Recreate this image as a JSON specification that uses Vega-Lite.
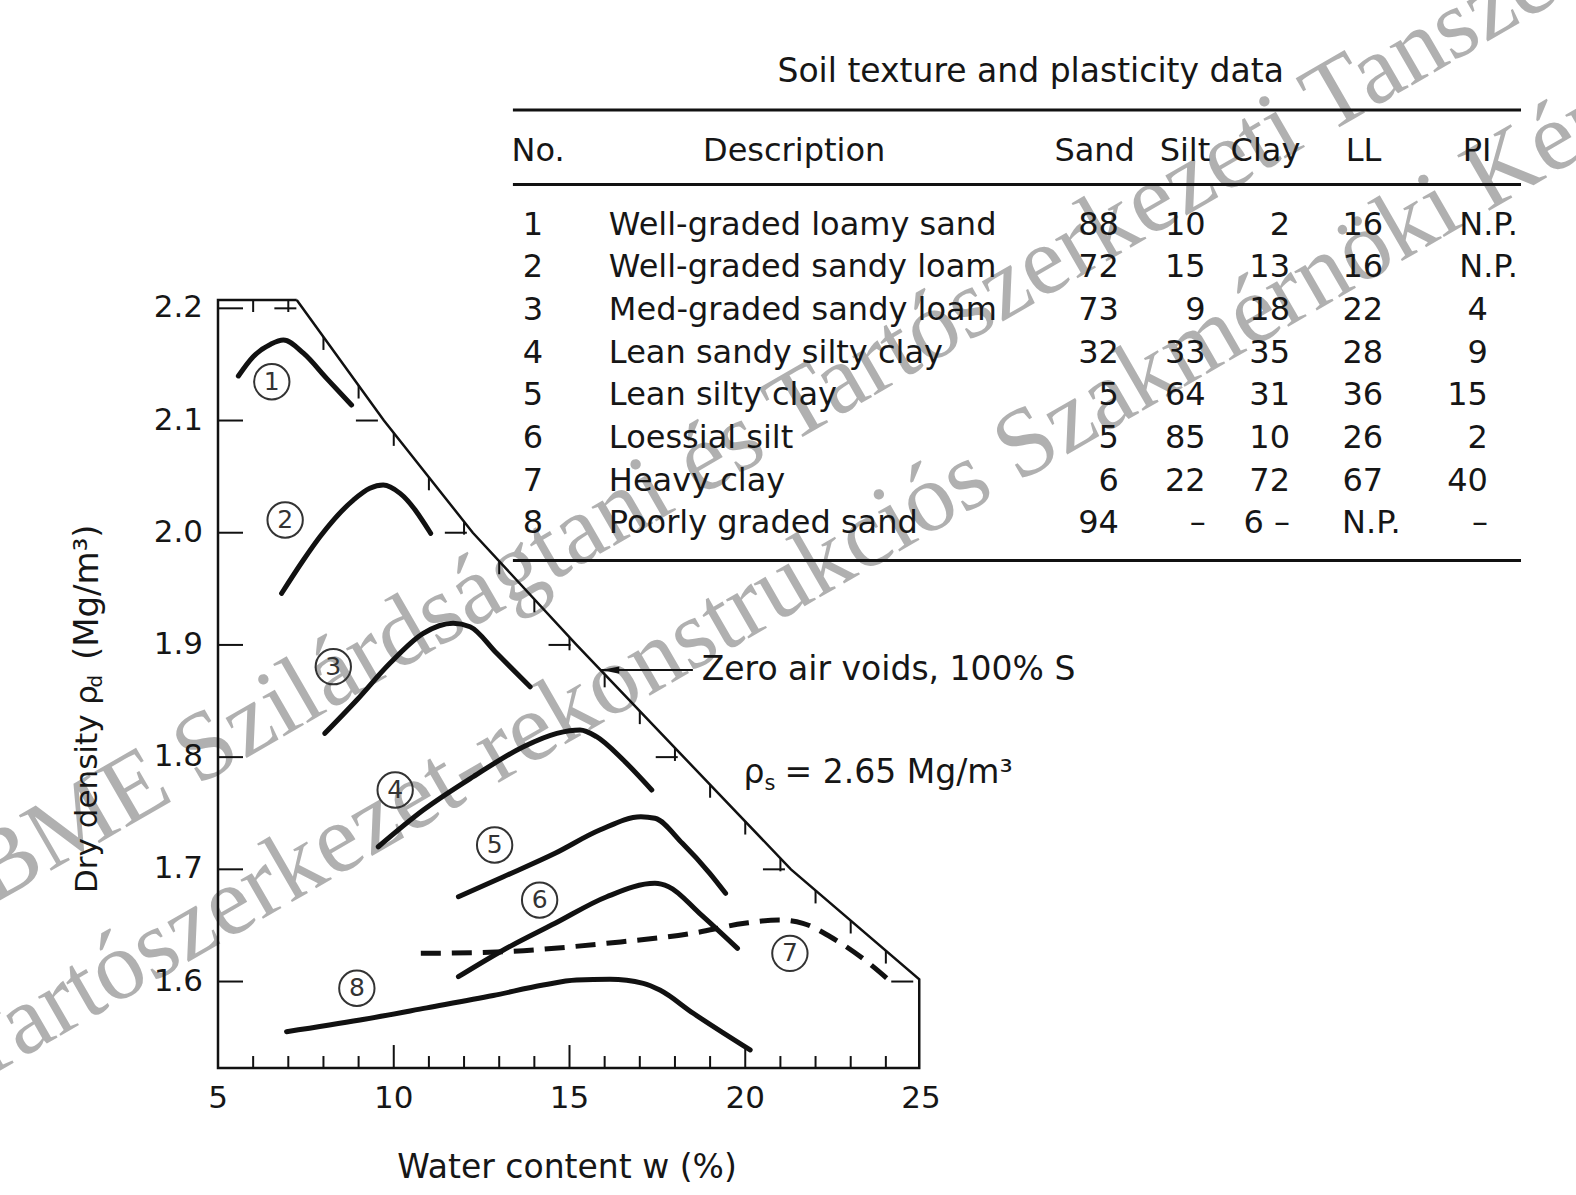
{
  "$schema": "https://vega.github.io/schema/vega-lite/v6.json",
  "width": 1576,
  "height": 1195,
  "autosize": {"type": "none"},
  "padding": 0,
  "background": "#ffffff",
  "config": {"view": {"stroke": null}, "text": {"font": "DejaVu Sans", "color": "#161616"}},
  "datasets": {
    "curves": [
      {"id": 1, "w": 5.58, "rho": 2.1397}, {"id": 1, "w": 6.0, "rho": 2.1569}, {"id": 1, "w": 6.5, "rho": 2.168}, {"id": 1, "w": 6.86, "rho": 2.1717}, {"id": 1, "w": 7.43, "rho": 2.16}, {"id": 1, "w": 8.09, "rho": 2.1376}, {"id": 1, "w": 8.8, "rho": 2.1138},
      {"id": 2, "w": 6.81, "rho": 1.946}, {"id": 2, "w": 7.43, "rho": 1.9757}, {"id": 2, "w": 7.9, "rho": 1.9964}, {"id": 2, "w": 8.85, "rho": 2.0291}, {"id": 2, "w": 9.32, "rho": 2.0396}, {"id": 2, "w": 9.7, "rho": 2.0425}, {"id": 2, "w": 10.18, "rho": 2.0351}, {"id": 2, "w": 11.05, "rho": 1.9995},
      {"id": 3, "w": 8.04, "rho": 1.8212}, {"id": 3, "w": 8.95, "rho": 1.8509}, {"id": 3, "w": 9.89, "rho": 1.8836}, {"id": 3, "w": 10.84, "rho": 1.9103}, {"id": 3, "w": 11.69, "rho": 1.9193}, {"id": 3, "w": 12.17, "rho": 1.9162}, {"id": 3, "w": 12.93, "rho": 1.8925}, {"id": 3, "w": 13.88, "rho": 1.8627},
      {"id": 4, "w": 9.56, "rho": 1.7201}, {"id": 4, "w": 10.84, "rho": 1.7528}, {"id": 4, "w": 12.26, "rho": 1.7825}, {"id": 4, "w": 13.69, "rho": 1.8093}, {"id": 4, "w": 14.64, "rho": 1.8212}, {"id": 4, "w": 15.3, "rho": 1.8242}, {"id": 4, "w": 15.77, "rho": 1.8182}, {"id": 4, "w": 16.53, "rho": 1.7974}, {"id": 4, "w": 17.34, "rho": 1.7707},
      {"id": 5, "w": 11.84, "rho": 1.6756}, {"id": 5, "w": 13.12, "rho": 1.6934}, {"id": 5, "w": 14.59, "rho": 1.7143}, {"id": 5, "w": 15.86, "rho": 1.735}, {"id": 5, "w": 17.03, "rho": 1.7469}, {"id": 5, "w": 17.43, "rho": 1.7455}, {"id": 5, "w": 18.21, "rho": 1.7232}, {"id": 5, "w": 18.99, "rho": 1.6964}, {"id": 5, "w": 19.44, "rho": 1.6786},
      {"id": 6, "w": 11.84, "rho": 1.6043}, {"id": 6, "w": 13.12, "rho": 1.6281}, {"id": 6, "w": 14.59, "rho": 1.6519}, {"id": 6, "w": 16.06, "rho": 1.6756}, {"id": 6, "w": 17.43, "rho": 1.6875}, {"id": 6, "w": 17.82, "rho": 1.6845}, {"id": 6, "w": 18.7, "rho": 1.6608}, {"id": 6, "w": 19.78, "rho": 1.6296},
      {"id": 7, "w": 10.77, "rho": 1.6251}, {"id": 7, "w": 13.12, "rho": 1.6266}, {"id": 7, "w": 16.06, "rho": 1.6341}, {"id": 7, "w": 18.5, "rho": 1.643}, {"id": 7, "w": 19.98, "rho": 1.6519}, {"id": 7, "w": 20.95, "rho": 1.6548}, {"id": 7, "w": 21.64, "rho": 1.6519}, {"id": 7, "w": 22.42, "rho": 1.6399}, {"id": 7, "w": 23.4, "rho": 1.6192}, {"id": 7, "w": 24.09, "rho": 1.6013},
      {"id": 8, "w": 6.95, "rho": 1.5553}, {"id": 8, "w": 9.04, "rho": 1.5657}, {"id": 8, "w": 10.94, "rho": 1.5765}, {"id": 8, "w": 12.83, "rho": 1.5875}, {"id": 8, "w": 14.25, "rho": 1.5969}, {"id": 8, "w": 15.2, "rho": 1.6013}, {"id": 8, "w": 16.15, "rho": 1.602}, {"id": 8, "w": 17.1, "rho": 1.5984}, {"id": 8, "w": 17.57, "rho": 1.5924}, {"id": 8, "w": 18.52, "rho": 1.5717}, {"id": 8, "w": 20.14, "rho": 1.539}
    ],
    "boundary": [
      {"i": 0, "w": 7.24, "rho": 2.2074}, {"i": 1, "w": 9.72, "rho": 2.1}, {"i": 2, "w": 12.25, "rho": 2.0}, {"i": 3, "w": 15.2, "rho": 1.9}, {"i": 4, "w": 18.25, "rho": 1.8}, {"i": 5, "w": 21.3, "rho": 1.7}, {"i": 6, "w": 24.95, "rho": 1.602},
      {"i": 7, "w": 24.95, "rho": 1.5229}, {"i": 8, "w": 5, "rho": 1.5229}, {"i": 9, "w": 5, "rho": 2.2074}, {"i": 10, "w": 7.24, "rho": 2.2074}
    ],
    "yticks": [{"rho": 1.6}, {"rho": 1.7}, {"rho": 1.8}, {"rho": 1.9}, {"rho": 2.0}, {"rho": 2.1}, {"rho": 2.2}],
    "xlabels": [{"w": 5}, {"w": 10}, {"w": 15}, {"w": 20}, {"w": 25}],
    "xticks": [
      {"w": 6, "major": false}, {"w": 7, "major": false}, {"w": 8, "major": false}, {"w": 9, "major": false}, {"w": 10, "major": true},
      {"w": 11, "major": false}, {"w": 12, "major": false}, {"w": 13, "major": false}, {"w": 14, "major": false}, {"w": 15, "major": true},
      {"w": 16, "major": false}, {"w": 17, "major": false}, {"w": 18, "major": false}, {"w": 19, "major": false}, {"w": 20, "major": true},
      {"w": 21, "major": false}, {"w": 22, "major": false}, {"w": 23, "major": false}, {"w": 24, "major": false}
    ],
    "topticks": [{"w": 6}, {"w": 7}],
    "zavv": [
      {"w": 8, "rho": 2.1745}, {"w": 9, "rho": 2.1312}, {"w": 10, "rho": 2.089}, {"w": 11, "rho": 2.0494}, {"w": 12, "rho": 2.0099}, {"w": 13, "rho": 1.9746}, {"w": 14, "rho": 1.9407}, {"w": 15, "rho": 1.9068}, {"w": 16, "rho": 1.8738},
      {"w": 17, "rho": 1.841}, {"w": 18, "rho": 1.8082}, {"w": 19, "rho": 1.7754}, {"w": 20, "rho": 1.7426}, {"w": 21, "rho": 1.7098}, {"w": 22, "rho": 1.6812}, {"w": 23, "rho": 1.6544}, {"w": 24, "rho": 1.6276}
    ],
    "zavh": [{"rho": 2.2, "w": 7.4}, {"rho": 2.1, "w": 9.72}, {"rho": 2.0, "w": 12.25}, {"rho": 1.9, "w": 15.2}, {"rho": 1.8, "w": 18.25}, {"rho": 1.7, "w": 21.3}, {"rho": 1.6, "w": 24.95}],
    "circles": [
      {"id": 1, "w": 6.53, "rho": 2.1346}, {"id": 2, "w": 6.91, "rho": 2.0113}, {"id": 3, "w": 8.28, "rho": 1.8806}, {"id": 4, "w": 10.04, "rho": 1.7707},
      {"id": 5, "w": 12.87, "rho": 1.7217}, {"id": 6, "w": 14.15, "rho": 1.6726}, {"id": 7, "w": 21.27, "rho": 1.6251}, {"id": 8, "w": 8.95, "rho": 1.594}
    ],
    "table": [
      {"no": 1, "desc": "Well-graded loamy sand", "sand": "88", "silt": "10", "clay": "2", "ll": "16", "pi": "N.P."},
      {"no": 2, "desc": "Well-graded sandy loam", "sand": "72", "silt": "15", "clay": "13", "ll": "16", "pi": "N.P."},
      {"no": 3, "desc": "Med-graded sandy loam", "sand": "73", "silt": "9", "clay": "18", "ll": "22", "pi": "4"},
      {"no": 4, "desc": "Lean sandy silty clay", "sand": "32", "silt": "33", "clay": "35", "ll": "28", "pi": "9"},
      {"no": 5, "desc": "Lean silty clay", "sand": "5", "silt": "64", "clay": "31", "ll": "36", "pi": "15"},
      {"no": 6, "desc": "Loessial silt", "sand": "5", "silt": "85", "clay": "10", "ll": "26", "pi": "2"},
      {"no": 7, "desc": "Heavy clay", "sand": "6", "silt": "22", "clay": "72", "ll": "67", "pi": "40"},
      {"no": 8, "desc": "Poorly graded sand", "sand": "94", "silt": "–", "clay": "6 –", "ll": "N.P.", "pi": "–"}
    ]
  },
  "layer": [
    {
      "layer": [
        {
          "data": {"values": [{"t": "BME Szilárdságtani és Tartószerkezeti Tanszék"}]},
          "mark": {"type": "text", "font": "Liberation Serif", "fontSize": 98, "angle": 330, "align": "left", "baseline": "alphabetic", "color": "#9d9d9d", "opacity": 0.8},
          "encoding": {
            "x": {"datum": -1.43, "type": "quantitative", "scale": {"domain": [-1.2021, 43.6344], "nice": false, "zero": false}, "axis": null},
            "y": {"datum": 1.6682, "type": "quantitative", "scale": {"domain": [1.40974, 2.4748], "nice": false, "zero": false}, "axis": null},
            "text": {"field": "t"}
          }
        },
        {
          "data": {"values": [{"t": "Tartószerkezet-rekonstrukciós Szakmérnöki Képzés"}]},
          "mark": {"type": "text", "font": "Liberation Serif", "fontSize": 98, "angle": 330, "align": "left", "baseline": "alphabetic", "color": "#9d9d9d", "opacity": 0.8},
          "encoding": {
            "x": {"datum": -1.91, "type": "quantitative", "scale": {"domain": [-1.2021, 43.6344], "nice": false, "zero": false}, "axis": null},
            "y": {"datum": 1.5078, "type": "quantitative", "scale": {"domain": [1.40974, 2.4748], "nice": false, "zero": false}, "axis": null},
            "text": {"field": "t"}
          }
        },
        {
          "data": {"name": "boundary"},
          "mark": {"type": "line", "color": "#111111", "strokeWidth": 2.5},
          "encoding": {
            "x": {"field": "w", "type": "quantitative", "scale": {"domain": [-1.2021, 43.6344], "nice": false, "zero": false}, "axis": null},
            "y": {"field": "rho", "type": "quantitative", "scale": {"domain": [1.40974, 2.4748], "nice": false, "zero": false}, "axis": null},
            "order": {"field": "i", "type": "quantitative"}
          }
        },
        {
          "data": {"name": "yticks"},
          "mark": {"type": "rule", "color": "#111111", "strokeWidth": 2, "x2Offset": 25},
          "encoding": {
            "x": {"datum": 5, "type": "quantitative", "scale": {"domain": [-1.2021, 43.6344], "nice": false, "zero": false}, "axis": null},
            "x2": {"datum": 5},
            "y": {"field": "rho", "type": "quantitative", "scale": {"domain": [1.40974, 2.4748], "nice": false, "zero": false}, "axis": null}
          }
        },
        {
          "data": {"name": "yticks"},
          "mark": {"type": "text", "fontSize": 31, "align": "right", "baseline": "middle", "dx": -15},
          "encoding": {
            "x": {"datum": 5, "type": "quantitative", "scale": {"domain": [-1.2021, 43.6344], "nice": false, "zero": false}, "axis": null},
            "y": {"field": "rho", "type": "quantitative", "scale": {"domain": [1.40974, 2.4748], "nice": false, "zero": false}, "axis": null},
            "text": {"field": "rho", "type": "quantitative", "format": ".1f"}
          }
        },
        {
          "data": {"name": "xlabels"},
          "mark": {"type": "text", "fontSize": 31, "align": "center", "baseline": "middle"},
          "encoding": {
            "x": {"field": "w", "type": "quantitative", "scale": {"domain": [-1.2021, 43.6344], "nice": false, "zero": false}, "axis": null},
            "y": {"datum": 1.4953, "type": "quantitative", "scale": {"domain": [1.40974, 2.4748], "nice": false, "zero": false}, "axis": null},
            "text": {"field": "w", "type": "quantitative", "format": "d"}
          }
        },
        {
          "data": {"name": "xticks"},
          "transform": [{"filter": "!datum.major"}],
          "mark": {"type": "rule", "color": "#111111", "strokeWidth": 2, "y2Offset": -12},
          "encoding": {
            "x": {"field": "w", "type": "quantitative", "scale": {"domain": [-1.2021, 43.6344], "nice": false, "zero": false}, "axis": null},
            "y": {"datum": 1.5229, "type": "quantitative", "scale": {"domain": [1.40974, 2.4748], "nice": false, "zero": false}, "axis": null},
            "y2": {"datum": 1.5229}
          }
        },
        {
          "data": {"name": "xticks"},
          "transform": [{"filter": "datum.major"}],
          "mark": {"type": "rule", "color": "#111111", "strokeWidth": 2, "y2Offset": -23},
          "encoding": {
            "x": {"field": "w", "type": "quantitative", "scale": {"domain": [-1.2021, 43.6344], "nice": false, "zero": false}, "axis": null},
            "y": {"datum": 1.5229, "type": "quantitative", "scale": {"domain": [1.40974, 2.4748], "nice": false, "zero": false}, "axis": null},
            "y2": {"datum": 1.5229}
          }
        },
        {
          "data": {"name": "topticks"},
          "mark": {"type": "rule", "color": "#111111", "strokeWidth": 2, "y2Offset": 12},
          "encoding": {
            "x": {"field": "w", "type": "quantitative", "scale": {"domain": [-1.2021, 43.6344], "nice": false, "zero": false}, "axis": null},
            "y": {"datum": 2.2074, "type": "quantitative", "scale": {"domain": [1.40974, 2.4748], "nice": false, "zero": false}, "axis": null},
            "y2": {"datum": 2.2074}
          }
        },
        {
          "data": {"name": "zavv"},
          "mark": {"type": "rule", "color": "#111111", "strokeWidth": 2, "y2Offset": 13},
          "encoding": {
            "x": {"field": "w", "type": "quantitative", "scale": {"domain": [-1.2021, 43.6344], "nice": false, "zero": false}, "axis": null},
            "y": {"field": "rho", "type": "quantitative", "scale": {"domain": [1.40974, 2.4748], "nice": false, "zero": false}, "axis": null},
            "y2": {"field": "rho"}
          }
        },
        {
          "data": {"name": "zavh"},
          "mark": {"type": "rule", "color": "#111111", "strokeWidth": 2, "xOffset": -6, "x2Offset": -28},
          "encoding": {
            "x": {"field": "w", "type": "quantitative", "scale": {"domain": [-1.2021, 43.6344], "nice": false, "zero": false}, "axis": null},
            "x2": {"field": "w"},
            "y": {"field": "rho", "type": "quantitative", "scale": {"domain": [1.40974, 2.4748], "nice": false, "zero": false}, "axis": null}
          }
        },
        {
          "data": {"name": "curves"},
          "transform": [{"filter": "datum.id != 7"}],
          "mark": {"type": "line", "interpolate": "monotone", "color": "#111111", "strokeWidth": 5, "strokeCap": "round"},
          "encoding": {
            "x": {"field": "w", "type": "quantitative", "scale": {"domain": [-1.2021, 43.6344], "nice": false, "zero": false}, "axis": null},
            "y": {"field": "rho", "type": "quantitative", "scale": {"domain": [1.40974, 2.4748], "nice": false, "zero": false}, "axis": null},
            "detail": {"field": "id", "type": "nominal"}
          }
        },
        {
          "data": {"name": "curves"},
          "transform": [{"filter": "datum.id == 7"}],
          "mark": {"type": "line", "interpolate": "monotone", "color": "#111111", "strokeWidth": 5, "strokeDash": [20, 11]},
          "encoding": {
            "x": {"field": "w", "type": "quantitative", "scale": {"domain": [-1.2021, 43.6344], "nice": false, "zero": false}, "axis": null},
            "y": {"field": "rho", "type": "quantitative", "scale": {"domain": [1.40974, 2.4748], "nice": false, "zero": false}, "axis": null}
          }
        },
        {
          "data": {"name": "circles"},
          "mark": {"type": "point", "shape": "circle", "filled": false, "size": 1250, "color": "#333333", "strokeWidth": 2, "opacity": 1},
          "encoding": {
            "x": {"field": "w", "type": "quantitative", "scale": {"domain": [-1.2021, 43.6344], "nice": false, "zero": false}, "axis": null},
            "y": {"field": "rho", "type": "quantitative", "scale": {"domain": [1.40974, 2.4748], "nice": false, "zero": false}, "axis": null}
          }
        },
        {
          "data": {"name": "circles"},
          "mark": {"type": "text", "fontSize": 25, "align": "center", "baseline": "middle", "color": "#333333"},
          "encoding": {
            "x": {"field": "w", "type": "quantitative", "scale": {"domain": [-1.2021, 43.6344], "nice": false, "zero": false}, "axis": null},
            "y": {"field": "rho", "type": "quantitative", "scale": {"domain": [1.40974, 2.4748], "nice": false, "zero": false}, "axis": null},
            "text": {"field": "id", "type": "nominal"}
          }
        },
        {
          "data": {"values": [{"t": "Zero air voids, 100% S"}]},
          "mark": {"type": "rule", "color": "#111111", "strokeWidth": 2},
          "encoding": {
            "x": {"datum": 15.9, "type": "quantitative", "scale": {"domain": [-1.2021, 43.6344], "nice": false, "zero": false}, "axis": null},
            "x2": {"datum": 18.51},
            "y": {"datum": 1.8776, "type": "quantitative", "scale": {"domain": [1.40974, 2.4748], "nice": false, "zero": false}, "axis": null}
          }
        },
        {
          "data": {"values": [{"t": "Zero air voids, 100% S"}]},
          "mark": {"type": "point", "shape": "M -1 0 L 1 -0.4 L 1 0.4 Z", "filled": true, "size": 324, "color": "#111111", "opacity": 1},
          "encoding": {
            "x": {"datum": 16.16, "type": "quantitative", "scale": {"domain": [-1.2021, 43.6344], "nice": false, "zero": false}, "axis": null},
            "y": {"datum": 1.8776, "type": "quantitative", "scale": {"domain": [1.40974, 2.4748], "nice": false, "zero": false}, "axis": null}
          }
        },
        {
          "data": {"values": [{"t": "Zero air voids, 100% S"}]},
          "mark": {"type": "text", "fontSize": 33, "align": "left", "baseline": "middle"},
          "encoding": {
            "x": {"datum": 18.76, "type": "quantitative", "scale": {"domain": [-1.2021, 43.6344], "nice": false, "zero": false}, "axis": null},
            "y": {"datum": 1.8776, "type": "quantitative", "scale": {"domain": [1.40974, 2.4748], "nice": false, "zero": false}, "axis": null},
            "text": {"field": "t"}
          }
        },
        {
          "data": {"values": [{"t": "ρ"}]},
          "mark": {"type": "text", "fontSize": 33, "align": "left", "baseline": "middle"},
          "encoding": {
            "x": {"datum": 19.95, "type": "quantitative", "scale": {"domain": [-1.2021, 43.6344], "nice": false, "zero": false}, "axis": null},
            "y": {"datum": 1.7857, "type": "quantitative", "scale": {"domain": [1.40974, 2.4748], "nice": false, "zero": false}, "axis": null},
            "text": {"field": "t"}
          }
        },
        {
          "data": {"values": [{"t": "s"}]},
          "mark": {"type": "text", "fontSize": 21, "align": "left", "baseline": "middle"},
          "encoding": {
            "x": {"datum": 20.55, "type": "quantitative", "scale": {"domain": [-1.2021, 43.6344], "nice": false, "zero": false}, "axis": null},
            "y": {"datum": 1.776, "type": "quantitative", "scale": {"domain": [1.40974, 2.4748], "nice": false, "zero": false}, "axis": null},
            "text": {"field": "t"}
          }
        },
        {
          "data": {"values": [{"t": "= 2.65 Mg/m³"}]},
          "mark": {"type": "text", "fontSize": 33, "align": "left", "baseline": "middle"},
          "encoding": {
            "x": {"datum": 21.12, "type": "quantitative", "scale": {"domain": [-1.2021, 43.6344], "nice": false, "zero": false}, "axis": null},
            "y": {"datum": 1.7857, "type": "quantitative", "scale": {"domain": [1.40974, 2.4748], "nice": false, "zero": false}, "axis": null},
            "text": {"field": "t"}
          }
        },
        {
          "data": {"values": [{"t": "Water content w (%)"}]},
          "mark": {"type": "text", "fontSize": 33, "align": "center", "baseline": "middle"},
          "encoding": {
            "x": {"datum": 14.93, "type": "quantitative", "scale": {"domain": [-1.2021, 43.6344], "nice": false, "zero": false}, "axis": null},
            "y": {"datum": 1.4337, "type": "quantitative", "scale": {"domain": [1.40974, 2.4748], "nice": false, "zero": false}, "axis": null},
            "text": {"field": "t"}
          }
        },
        {
          "data": {"values": [{"t": "Dry density ρ"}]},
          "mark": {"type": "text", "fontSize": 31, "angle": 270, "align": "left", "baseline": "middle"},
          "encoding": {
            "x": {"datum": 1.3, "type": "quantitative", "scale": {"domain": [-1.2021, 43.6344], "nice": false, "zero": false}, "axis": null},
            "y": {"datum": 1.6789, "type": "quantitative", "scale": {"domain": [1.40974, 2.4748], "nice": false, "zero": false}, "axis": null},
            "text": {"field": "t"}
          }
        },
        {
          "data": {"values": [{"t": "d"}]},
          "mark": {"type": "text", "fontSize": 20, "angle": 270, "align": "left", "baseline": "middle"},
          "encoding": {
            "x": {"datum": 1.52, "type": "quantitative", "scale": {"domain": [-1.2021, 43.6344], "nice": false, "zero": false}, "axis": null},
            "y": {"datum": 1.862, "type": "quantitative", "scale": {"domain": [1.40974, 2.4748], "nice": false, "zero": false}, "axis": null},
            "text": {"field": "t"}
          }
        },
        {
          "data": {"values": [{"t": "(Mg/m³)"}]},
          "mark": {"type": "text", "fontSize": 34, "angle": 270, "align": "left", "baseline": "middle"},
          "encoding": {
            "x": {"datum": 1.3, "type": "quantitative", "scale": {"domain": [-1.2021, 43.6344], "nice": false, "zero": false}, "axis": null},
            "y": {"datum": 1.8865, "type": "quantitative", "scale": {"domain": [1.40974, 2.4748], "nice": false, "zero": false}, "axis": null},
            "text": {"field": "t"}
          }
        }
      ]
    },
    {
      "layer": [
        {
          "data": {"values": [{"t": "Soil texture and plasticity data"}]},
          "mark": {"type": "text", "fontSize": 33, "align": "center", "baseline": "middle"},
          "encoding": {
            "x": {"datum": 28.12, "type": "quantitative", "scale": {"domain": [-1.2021, 43.6344], "nice": false, "zero": false}, "axis": null},
            "y": {"datum": -2.583, "type": "quantitative", "scale": {"domain": [-4.2576, 23.728], "reverse": true, "nice": false, "zero": false}, "axis": null},
            "text": {"field": "t"}
          }
        },
        {
          "data": {"values": [{}]},
          "mark": {"type": "rule", "color": "#111111", "strokeWidth": 3},
          "encoding": {
            "x": {"datum": 13.39, "type": "quantitative", "scale": {"domain": [-1.2021, 43.6344], "nice": false, "zero": false}, "axis": null},
            "x2": {"datum": 42.07},
            "y": {"datum": -1.681, "type": "quantitative", "scale": {"domain": [-4.2576, 23.728], "reverse": true, "nice": false, "zero": false}, "axis": null}
          }
        },
        {
          "data": {"values": [{}]},
          "mark": {"type": "rule", "color": "#111111", "strokeWidth": 3},
          "encoding": {
            "x": {"datum": 13.39, "type": "quantitative", "scale": {"domain": [-1.2021, 43.6344], "nice": false, "zero": false}, "axis": null},
            "x2": {"datum": 42.07},
            "y": {"datum": 0.0632, "type": "quantitative", "scale": {"domain": [-4.2576, 23.728], "reverse": true, "nice": false, "zero": false}, "axis": null}
          }
        },
        {
          "data": {"values": [{}]},
          "mark": {"type": "rule", "color": "#111111", "strokeWidth": 3},
          "encoding": {
            "x": {"datum": 13.39, "type": "quantitative", "scale": {"domain": [-1.2021, 43.6344], "nice": false, "zero": false}, "axis": null},
            "x2": {"datum": 42.07},
            "y": {"datum": 8.869, "type": "quantitative", "scale": {"domain": [-4.2576, 23.728], "reverse": true, "nice": false, "zero": false}, "axis": null}
          }
        },
        {
          "data": {"values": [{"t": "No."}]},
          "mark": {"type": "text", "fontSize": 32, "align": "left", "baseline": "middle"},
          "encoding": {
            "x": {"datum": 13.35, "type": "quantitative", "scale": {"domain": [-1.2021, 43.6344], "nice": false, "zero": false}, "axis": null},
            "y": {"datum": -0.733, "type": "quantitative", "scale": {"domain": [-4.2576, 23.728], "reverse": true, "nice": false, "zero": false}, "axis": null},
            "text": {"field": "t"}
          }
        },
        {
          "data": {"values": [{"t": "Description"}]},
          "mark": {"type": "text", "fontSize": 32, "align": "center", "baseline": "middle"},
          "encoding": {
            "x": {"datum": 21.39, "type": "quantitative", "scale": {"domain": [-1.2021, 43.6344], "nice": false, "zero": false}, "axis": null},
            "y": {"datum": -0.733, "type": "quantitative", "scale": {"domain": [-4.2576, 23.728], "reverse": true, "nice": false, "zero": false}, "axis": null},
            "text": {"field": "t"}
          }
        },
        {
          "data": {"values": [{"t": "Sand"}]},
          "mark": {"type": "text", "fontSize": 32, "align": "center", "baseline": "middle"},
          "encoding": {
            "x": {"datum": 29.94, "type": "quantitative", "scale": {"domain": [-1.2021, 43.6344], "nice": false, "zero": false}, "axis": null},
            "y": {"datum": -0.733, "type": "quantitative", "scale": {"domain": [-4.2576, 23.728], "reverse": true, "nice": false, "zero": false}, "axis": null},
            "text": {"field": "t"}
          }
        },
        {
          "data": {"values": [{"t": "Silt"}]},
          "mark": {"type": "text", "fontSize": 32, "align": "center", "baseline": "middle"},
          "encoding": {
            "x": {"datum": 32.51, "type": "quantitative", "scale": {"domain": [-1.2021, 43.6344], "nice": false, "zero": false}, "axis": null},
            "y": {"datum": -0.733, "type": "quantitative", "scale": {"domain": [-4.2576, 23.728], "reverse": true, "nice": false, "zero": false}, "axis": null},
            "text": {"field": "t"}
          }
        },
        {
          "data": {"values": [{"t": "Clay"}]},
          "mark": {"type": "text", "fontSize": 32, "align": "center", "baseline": "middle"},
          "encoding": {
            "x": {"datum": 34.8, "type": "quantitative", "scale": {"domain": [-1.2021, 43.6344], "nice": false, "zero": false}, "axis": null},
            "y": {"datum": -0.733, "type": "quantitative", "scale": {"domain": [-4.2576, 23.728], "reverse": true, "nice": false, "zero": false}, "axis": null},
            "text": {"field": "t"}
          }
        },
        {
          "data": {"values": [{"t": "LL"}]},
          "mark": {"type": "text", "fontSize": 32, "align": "center", "baseline": "middle"},
          "encoding": {
            "x": {"datum": 37.59, "type": "quantitative", "scale": {"domain": [-1.2021, 43.6344], "nice": false, "zero": false}, "axis": null},
            "y": {"datum": -0.733, "type": "quantitative", "scale": {"domain": [-4.2576, 23.728], "reverse": true, "nice": false, "zero": false}, "axis": null},
            "text": {"field": "t"}
          }
        },
        {
          "data": {"values": [{"t": "PI"}]},
          "mark": {"type": "text", "fontSize": 32, "align": "center", "baseline": "middle"},
          "encoding": {
            "x": {"datum": 40.82, "type": "quantitative", "scale": {"domain": [-1.2021, 43.6344], "nice": false, "zero": false}, "axis": null},
            "y": {"datum": -0.733, "type": "quantitative", "scale": {"domain": [-4.2576, 23.728], "reverse": true, "nice": false, "zero": false}, "axis": null},
            "text": {"field": "t"}
          }
        },
        {
          "data": {"name": "table"},
          "mark": {"type": "text", "fontSize": 32, "align": "center", "baseline": "middle"},
          "encoding": {
            "x": {"datum": 13.96, "type": "quantitative", "scale": {"domain": [-1.2021, 43.6344], "nice": false, "zero": false}, "axis": null},
            "y": {"field": "no", "type": "quantitative", "scale": {"domain": [-4.2576, 23.728], "reverse": true, "nice": false, "zero": false}, "axis": null},
            "text": {"field": "no", "type": "nominal"}
          }
        },
        {
          "data": {"name": "table"},
          "mark": {"type": "text", "fontSize": 32, "align": "left", "baseline": "middle"},
          "encoding": {
            "x": {"datum": 16.12, "type": "quantitative", "scale": {"domain": [-1.2021, 43.6344], "nice": false, "zero": false}, "axis": null},
            "y": {"field": "no", "type": "quantitative", "scale": {"domain": [-4.2576, 23.728], "reverse": true, "nice": false, "zero": false}, "axis": null},
            "text": {"field": "desc", "type": "nominal"}
          }
        },
        {
          "data": {"name": "table"},
          "mark": {"type": "text", "fontSize": 32, "align": "right", "baseline": "middle"},
          "encoding": {
            "x": {"datum": 30.63, "type": "quantitative", "scale": {"domain": [-1.2021, 43.6344], "nice": false, "zero": false}, "axis": null},
            "y": {"field": "no", "type": "quantitative", "scale": {"domain": [-4.2576, 23.728], "reverse": true, "nice": false, "zero": false}, "axis": null},
            "text": {"field": "sand", "type": "nominal"}
          }
        },
        {
          "data": {"name": "table"},
          "mark": {"type": "text", "fontSize": 32, "align": "right", "baseline": "middle"},
          "encoding": {
            "x": {"datum": 33.1, "type": "quantitative", "scale": {"domain": [-1.2021, 43.6344], "nice": false, "zero": false}, "axis": null},
            "y": {"field": "no", "type": "quantitative", "scale": {"domain": [-4.2576, 23.728], "reverse": true, "nice": false, "zero": false}, "axis": null},
            "text": {"field": "silt", "type": "nominal"}
          }
        },
        {
          "data": {"name": "table"},
          "mark": {"type": "text", "fontSize": 32, "align": "right", "baseline": "middle"},
          "encoding": {
            "x": {"datum": 35.5, "type": "quantitative", "scale": {"domain": [-1.2021, 43.6344], "nice": false, "zero": false}, "axis": null},
            "y": {"field": "no", "type": "quantitative", "scale": {"domain": [-4.2576, 23.728], "reverse": true, "nice": false, "zero": false}, "axis": null},
            "text": {"field": "clay", "type": "nominal"}
          }
        },
        {
          "data": {"name": "table"},
          "transform": [{"filter": "datum.ll !== 'N.P.'"}],
          "mark": {"type": "text", "fontSize": 32, "align": "right", "baseline": "middle"},
          "encoding": {
            "x": {"datum": 38.15, "type": "quantitative", "scale": {"domain": [-1.2021, 43.6344], "nice": false, "zero": false}, "axis": null},
            "y": {"field": "no", "type": "quantitative", "scale": {"domain": [-4.2576, 23.728], "reverse": true, "nice": false, "zero": false}, "axis": null},
            "text": {"field": "ll", "type": "nominal"}
          }
        },
        {
          "data": {"name": "table"},
          "transform": [{"filter": "datum.ll === 'N.P.'"}],
          "mark": {"type": "text", "fontSize": 32, "align": "left", "baseline": "middle"},
          "encoding": {
            "x": {"datum": 36.98, "type": "quantitative", "scale": {"domain": [-1.2021, 43.6344], "nice": false, "zero": false}, "axis": null},
            "y": {"field": "no", "type": "quantitative", "scale": {"domain": [-4.2576, 23.728], "reverse": true, "nice": false, "zero": false}, "axis": null},
            "text": {"field": "ll", "type": "nominal"}
          }
        },
        {
          "data": {"name": "table"},
          "transform": [{"filter": "datum.pi !== 'N.P.'"}],
          "mark": {"type": "text", "fontSize": 32, "align": "right", "baseline": "middle"},
          "encoding": {
            "x": {"datum": 41.13, "type": "quantitative", "scale": {"domain": [-1.2021, 43.6344], "nice": false, "zero": false}, "axis": null},
            "y": {"field": "no", "type": "quantitative", "scale": {"domain": [-4.2576, 23.728], "reverse": true, "nice": false, "zero": false}, "axis": null},
            "text": {"field": "pi", "type": "nominal"}
          }
        },
        {
          "data": {"name": "table"},
          "transform": [{"filter": "datum.pi === 'N.P.'"}],
          "mark": {"type": "text", "fontSize": 32, "align": "right", "baseline": "middle"},
          "encoding": {
            "x": {"datum": 41.98, "type": "quantitative", "scale": {"domain": [-1.2021, 43.6344], "nice": false, "zero": false}, "axis": null},
            "y": {"field": "no", "type": "quantitative", "scale": {"domain": [-4.2576, 23.728], "reverse": true, "nice": false, "zero": false}, "axis": null},
            "text": {"field": "pi", "type": "nominal"}
          }
        }
      ]
    }
  ],
  "resolve": {"scale": {"y": "independent"}}
}
